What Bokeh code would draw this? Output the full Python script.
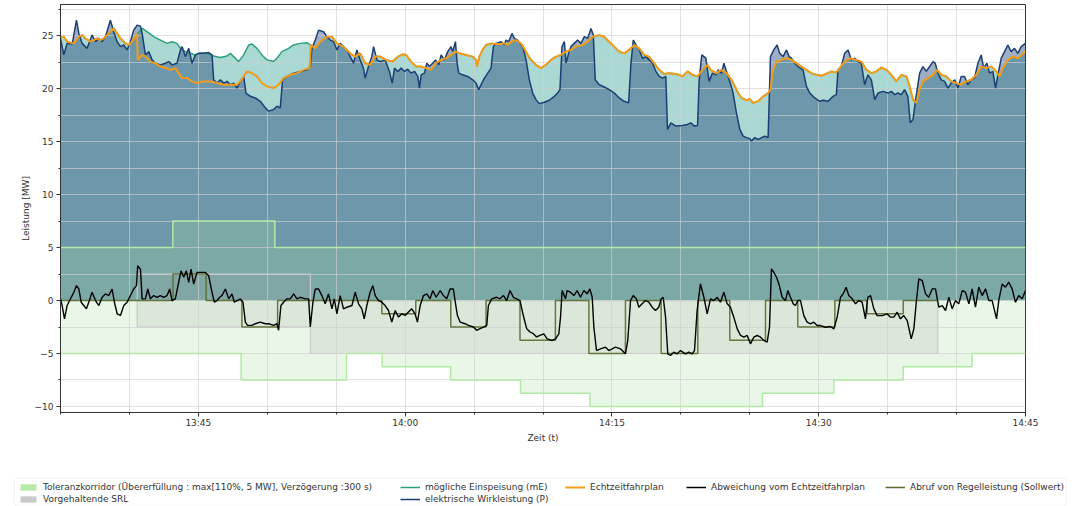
from bokeh.plotting import figure
from bokeh.models import FixedTicker, Legend, LegendItem, BoxAnnotation
from bokeh.embed import file_html
from bokeh.resources import INLINE

# ---------------- data (time in minutes after 13:35) ----------------
T_END = 70.0
x_tick_pos = [10, 25, 40, 55, 70]
x_tick_labels = ["13:45", "14:00", "14:15", "14:30", "14:45"]
y_tick_pos = [-10, -5, 0, 5, 10, 15, 20, 25]
y_tick_labels = ["\u221210", "\u22125", "0", "5", "10", "15", "20", "25"]

# elektrische Wirkleistung (P)
P_points = [
    (0.00, 24.75), (0.24, 23.19), (0.48, 24.28), (0.85, 24.22), (1.16, 26.47), (1.33, 25.22), (1.57, 24.28),
    (1.93, 23.81), (2.29, 25.06), (2.54, 24.44), (2.78, 24.75), (3.02, 24.44), (3.26, 24.91), (3.62, 26.47),
    (3.86, 25.38), (4.11, 24.44), (4.35, 23.97), (4.59, 24.13), (4.83, 23.66), (5.07, 24.44), (5.31, 25.53),
    (5.56, 26.00), (5.80, 25.91), (5.92, 25.22), (6.16, 23.19), (6.40, 23.50), (6.64, 22.72), (6.88, 22.41),
    (7.25, 22.25), (7.61, 22.41), (7.85, 22.56), (8.09, 22.25), (8.45, 22.41), (8.70, 23.66), (8.82, 23.97),
    (9.06, 23.03), (9.30, 23.81), (9.54, 22.41), (9.78, 23.19), (10.02, 23.34), (10.39, 23.34), (10.75, 23.41),
    (10.99, 23.19), (11.11, 20.84), (11.35, 20.53), (11.59, 20.84), (11.84, 20.53), (12.08, 20.69), (12.32, 20.38),
    (12.56, 20.53), (12.80, 20.06), (13.04, 20.69), (13.29, 21.16), (13.45, 19.59), (13.77, 19.28), (14.13, 19.13),
    (14.49, 18.81), (14.86, 18.19), (15.10, 17.88), (15.46, 18.03), (15.70, 18.34), (15.94, 18.19), (16.11, 20.84),
    (16.43, 21.16), (16.91, 21.47), (17.39, 21.63), (17.87, 21.78), (18.12, 22.09), (18.24, 23.81), (18.48, 24.59),
    (18.72, 25.53), (19.08, 25.38), (19.32, 24.91), (19.57, 24.59), (19.81, 24.44), (20.05, 23.66), (20.29, 24.28),
    (20.53, 23.97), (20.77, 23.66), (21.01, 23.03), (21.26, 22.41), (21.50, 23.66), (21.74, 22.72), (21.98, 21.94),
    (22.10, 21.00), (22.34, 22.09), (22.58, 23.03), (22.71, 23.97), (22.95, 22.72), (23.19, 22.56), (23.55, 22.72),
    (23.86, 21.63), (24.06, 20.53), (24.23, 21.94), (24.47, 21.63), (24.71, 21.94), (24.95, 21.63), (25.19, 21.84),
    (25.43, 21.47), (25.68, 21.63), (25.92, 21.16), (26.04, 20.06), (26.16, 21.31), (26.40, 21.47), (26.57, 22.41),
    (26.76, 22.09), (27.00, 22.41), (27.20, 22.72), (27.44, 22.25), (27.61, 23.19), (27.85, 22.72), (28.09, 23.50),
    (28.33, 23.97), (28.45, 23.50), (28.65, 24.44), (28.77, 22.41), (28.89, 21.47), (29.18, 21.31), (29.54, 21.16),
    (29.90, 20.84), (30.14, 20.53), (30.34, 19.91), (30.51, 20.38), (30.75, 21.00), (30.99, 21.47), (31.23, 21.94),
    (31.40, 23.97), (31.59, 24.28), (31.96, 24.44), (32.20, 24.13), (32.32, 24.59), (32.51, 24.44), (32.75, 25.22),
    (32.92, 24.75), (33.16, 24.59), (33.41, 24.13), (33.57, 23.81), (33.77, 22.72), (34.01, 20.84), (34.25, 19.59),
    (34.49, 18.97), (34.73, 18.59), (35.10, 18.72), (35.46, 18.91), (35.82, 19.28), (36.06, 19.59), (36.23, 19.91),
    (36.38, 23.97), (36.55, 24.44), (36.67, 22.41), (36.86, 23.34), (37.03, 23.97), (37.27, 24.28), (37.51, 24.59),
    (37.75, 24.28), (38.00, 24.91), (38.24, 24.75), (38.48, 25.69), (38.65, 25.06), (38.79, 20.84), (39.08, 20.38),
    (39.44, 20.16), (39.81, 19.91), (40.17, 19.59), (40.53, 19.13), (40.89, 18.81), (41.21, 18.66), (41.38, 22.41),
    (41.55, 24.59), (41.74, 24.13), (41.98, 23.66), (42.22, 22.88), (42.46, 23.03), (42.71, 22.72), (42.95, 22.41),
    (43.19, 21.63), (43.43, 21.16), (43.67, 21.00), (43.91, 21.16), (44.03, 16.16), (44.28, 16.78), (44.64, 16.47),
    (45.12, 16.53), (45.48, 16.63), (45.72, 16.78), (45.97, 16.47), (46.21, 16.53), (46.33, 20.84), (46.52, 23.19),
    (46.81, 22.88), (47.05, 20.69), (47.29, 21.47), (47.54, 21.31), (47.71, 21.78), (47.95, 21.47), (48.12, 22.41),
    (48.31, 21.63), (48.55, 20.69), (48.79, 19.59), (49.03, 17.72), (49.28, 16.16), (49.52, 15.53), (49.76, 15.38),
    (50.00, 15.28), (50.12, 15.06), (50.36, 15.38), (50.60, 15.22), (50.85, 15.38), (51.09, 15.53), (51.33, 15.38),
    (51.50, 23.03), (51.74, 23.66), (51.98, 24.13), (52.17, 23.34), (52.42, 23.03), (52.66, 23.66), (52.85, 23.03),
    (53.02, 22.88), (53.26, 22.41), (53.50, 22.09), (53.86, 21.78), (54.11, 20.22), (54.35, 19.59), (54.71, 19.13),
    (55.07, 18.81), (55.31, 18.91), (55.68, 18.81), (56.04, 19.28), (56.28, 19.44), (56.40, 21.78), (56.64, 22.09),
    (56.88, 23.34), (57.13, 23.66), (57.37, 22.72), (57.61, 22.88), (57.85, 22.56), (58.09, 22.41), (58.33, 20.38),
    (58.57, 21.31), (58.82, 20.84), (59.06, 18.97), (59.30, 19.59), (59.66, 19.75), (60.02, 19.59), (60.27, 19.75),
    (60.51, 19.44), (60.75, 19.59), (60.99, 19.44), (61.23, 19.91), (61.47, 19.28), (61.64, 16.78), (61.84, 17.09),
    (62.03, 18.97), (62.32, 21.47), (62.56, 22.09), (62.80, 21.63), (63.04, 22.09), (63.29, 22.56), (63.45, 22.41),
    (63.65, 21.47), (63.89, 20.84), (64.13, 20.69), (64.37, 20.06), (64.61, 20.53), (64.86, 20.84), (65.10, 20.06),
    (65.34, 21.16), (65.58, 21.16), (65.82, 20.38), (66.06, 20.84), (66.30, 21.00), (66.55, 22.41), (66.79, 23.19),
    (66.96, 21.94), (67.20, 22.41), (67.39, 21.47), (67.63, 21.63), (67.83, 20.06), (68.00, 21.31), (68.24, 22.88),
    (68.48, 23.50), (68.72, 24.13), (68.96, 23.50), (69.20, 23.81), (69.44, 23.34), (69.69, 23.97), (70.00, 24.28),
]

# Echtzeitfahrplan
F_points = [
    (0.00, 24.91), (0.24, 24.91), (0.48, 24.44), (0.97, 24.28), (1.33, 24.91), (1.57, 25.06), (1.81, 24.75),
    (2.17, 24.44), (2.42, 24.59), (2.66, 24.75), (2.90, 24.59), (3.14, 24.75), (3.50, 25.22), (3.86, 25.69),
    (4.11, 25.22), (4.35, 24.75), (4.71, 24.28), (4.95, 24.13), (5.19, 24.44), (5.43, 24.91), (5.56, 25.22),
    (5.60, 22.72), (5.92, 23.19), (6.16, 23.03), (6.52, 22.56), (6.88, 22.41), (7.25, 22.09), (7.73, 21.94),
    (7.97, 21.78), (8.33, 21.94), (8.57, 21.47), (8.82, 21.00), (9.18, 21.00), (9.54, 20.69), (9.90, 20.53),
    (10.39, 20.69), (10.87, 20.69), (11.35, 20.53), (11.84, 20.38), (12.32, 20.38), (12.80, 20.38), (13.04, 20.69),
    (13.29, 21.16), (13.53, 21.63), (13.89, 21.47), (14.25, 21.16), (14.61, 20.53), (14.98, 20.22), (15.46, 20.06),
    (15.82, 20.38), (16.18, 21.00), (16.67, 21.31), (17.15, 21.47), (17.63, 21.78), (18.07, 21.94), (18.16, 24.13),
    (18.48, 23.81), (18.84, 24.44), (19.32, 24.91), (19.69, 24.91), (20.05, 24.28), (20.53, 23.97), (21.01, 23.34),
    (21.38, 23.03), (21.74, 23.34), (22.10, 22.41), (22.46, 22.25), (22.83, 23.03), (23.19, 23.03), (23.62, 22.72),
    (24.10, 22.56), (24.47, 23.03), (24.83, 23.25), (25.07, 23.19), (25.43, 22.56), (25.79, 22.09), (26.16, 22.09),
    (26.52, 21.94), (26.88, 21.78), (27.24, 22.41), (27.61, 22.72), (27.97, 22.88), (28.33, 23.19), (28.69, 23.50),
    (28.93, 23.34), (29.42, 23.19), (29.90, 23.03), (30.14, 22.72), (30.21, 22.09), (30.38, 23.03), (30.62, 23.66),
    (30.87, 24.13), (31.23, 24.28), (31.59, 24.22), (31.95, 24.22), (32.20, 24.28), (32.44, 24.13), (32.68, 24.44),
    (33.04, 24.59), (33.40, 24.28), (33.64, 23.81), (33.89, 23.19), (34.13, 22.72), (34.49, 22.25), (34.85, 21.94),
    (35.21, 22.25), (35.58, 22.72), (35.94, 23.03), (36.30, 23.19), (36.66, 23.50), (37.03, 23.66), (37.39, 23.97),
    (37.87, 24.13), (38.23, 24.44), (38.60, 24.91), (39.08, 25.06), (39.44, 24.91), (39.80, 24.44), (40.17, 23.97),
    (40.53, 23.50), (40.89, 23.34), (41.25, 23.66), (41.62, 24.13), (41.98, 23.81), (42.34, 23.19), (42.70, 23.03),
    (43.06, 22.41), (43.43, 21.78), (43.79, 21.38), (44.15, 21.47), (44.51, 21.41), (44.88, 21.31), (45.12, 21.16),
    (45.48, 21.63), (45.84, 21.31), (46.21, 21.16), (46.57, 21.78), (46.93, 22.25), (47.17, 21.78), (47.54, 21.47),
    (47.95, 21.78), (48.31, 21.47), (48.67, 20.84), (48.92, 20.22), (49.16, 19.59), (49.40, 19.13), (49.76, 18.91),
    (50.00, 19.03), (50.24, 18.66), (50.61, 18.81), (50.97, 19.28), (51.33, 19.59), (51.50, 19.91), (51.69, 21.78),
    (51.94, 22.56), (52.30, 22.72), (52.66, 22.88), (53.02, 22.72), (53.38, 22.41), (53.75, 22.09), (54.11, 21.78),
    (54.47, 21.47), (54.83, 21.31), (55.20, 21.22), (55.56, 21.41), (55.92, 21.63), (56.28, 21.53), (56.52, 21.94),
    (56.89, 22.56), (57.25, 22.88), (57.73, 22.72), (58.09, 22.56), (58.46, 21.78), (58.82, 21.47), (59.18, 21.63),
    (59.54, 22.00), (59.91, 21.78), (60.27, 21.31), (60.63, 20.69), (60.99, 21.31), (61.36, 21.16), (61.60, 20.22),
    (61.84, 18.97), (62.08, 18.66), (62.32, 19.91), (62.56, 20.69), (62.93, 21.00), (63.29, 21.31), (63.58, 21.78),
    (63.89, 21.31), (64.25, 21.16), (64.62, 20.69), (64.98, 20.53), (65.34, 20.38), (65.70, 20.69), (66.06, 20.84),
    (66.43, 21.31), (66.79, 22.09), (67.15, 21.94), (67.51, 22.09), (67.88, 21.63), (68.12, 21.16), (68.36, 21.94),
    (68.72, 22.72), (69.09, 23.03), (69.45, 22.88), (69.69, 23.19), (70.00, 23.50),
]

# mögliche Einspeisung (mE) where it differs from the Echtzeitfahrplan
mE_window_points = [
    (5.60, 25.22), (5.92, 25.69), (6.28, 25.38), (6.76, 24.91), (7.25, 24.59), (7.73, 24.28), (8.09, 24.44),
    (8.45, 24.28), (8.70, 23.81), (9.06, 23.50), (9.42, 23.34), (9.78, 23.19), (10.14, 23.34), (10.63, 23.34),
    (11.11, 23.09), (11.59, 22.94), (12.08, 23.09), (12.32, 23.34), (12.56, 23.03), (12.92, 22.56), (13.29, 23.19),
    (13.65, 24.13), (13.89, 24.22), (14.25, 23.81), (14.61, 23.19), (14.98, 22.72), (15.46, 22.56), (15.70, 22.88),
    (16.06, 23.50), (16.55, 23.81), (16.91, 24.13), (17.39, 24.28), (17.87, 24.34), (18.12, 24.13),
]

# Abweichung vom Echtzeitfahrplan
D_points = [
    (0.00, 0.16), (0.12, -0.47), (0.29, -1.72), (0.48, -0.47), (0.72, 0.16), (0.97, 0.78), (1.16, 1.41),
    (1.33, 1.09), (1.50, -0.16), (1.69, -0.47), (1.88, -0.78), (2.05, -0.16), (2.29, 0.78), (2.54, 0.00),
    (2.78, -0.47), (3.02, 0.31), (3.26, 0.63), (3.50, 0.47), (3.74, 1.09), (3.91, -0.16), (4.11, -1.25),
    (4.35, -1.41), (4.59, -0.47), (4.83, -0.16), (5.07, 0.47), (5.31, 1.09), (5.51, 1.41), (5.60, 3.28),
    (5.80, 2.97), (5.92, 0.16), (6.16, 0.16), (6.33, 1.09), (6.52, 0.16), (6.76, 0.47), (7.00, 0.31),
    (7.25, 0.47), (7.49, 0.31), (7.73, 0.47), (7.92, 1.09), (8.09, 0.00), (8.33, 0.16), (8.57, 1.72),
    (8.74, 2.81), (8.94, 2.19), (9.13, 2.81), (9.30, 1.72), (9.47, 2.97), (9.66, 1.56), (9.90, 2.66),
    (10.14, 2.66), (10.51, 2.66), (10.75, 2.34), (10.99, 0.78), (11.16, -0.16), (11.35, 0.00), (11.55, 0.31),
    (11.71, 0.47), (11.96, 1.09), (12.20, 0.16), (12.44, 0.63), (12.61, -0.16), (12.80, 0.00), (13.04, 0.16),
    (13.24, -0.16), (13.41, -2.03), (13.57, -2.34), (13.89, -2.34), (14.13, -2.19), (14.49, -2.03), (14.86, -2.19),
    (15.10, -2.19), (15.46, -2.34), (15.70, -2.19), (15.82, -2.81), (15.99, -0.47), (16.18, -0.16), (16.43, 0.16),
    (16.67, 0.16), (16.91, 0.63), (17.15, 0.16), (17.39, 0.31), (17.75, 0.16), (18.00, 0.16), (18.12, -2.50),
    (18.31, -0.16), (18.48, 1.09), (18.72, 1.09), (18.96, 0.47), (19.20, -0.31), (19.44, 0.63), (19.69, -0.78),
    (19.86, 0.16), (20.05, -1.25), (20.29, 0.47), (20.53, -0.78), (20.77, -0.63), (21.14, -0.47), (21.38, 0.78),
    (21.62, -0.31), (21.86, -0.78), (22.03, -1.72), (22.22, -0.47), (22.46, 0.78), (22.66, 1.41), (22.83, 0.47),
    (23.07, 0.00), (23.31, -0.16), (23.55, -0.47), (23.79, -0.94), (24.03, -2.03), (24.28, -0.94), (24.52, -1.56),
    (24.76, -1.25), (25.00, -1.41), (25.24, -1.09), (25.48, -0.78), (25.72, -1.25), (25.89, -2.03), (26.09, -0.47),
    (26.33, 0.47), (26.57, 0.63), (26.81, 0.16), (27.00, 0.94), (27.25, 0.31), (27.54, 0.94), (27.78, 0.47),
    (28.02, 0.16), (28.26, 1.09), (28.50, 1.09), (28.62, 0.00), (28.79, -1.41), (28.99, -2.03), (29.35, -2.19),
    (29.59, -2.34), (29.95, -2.50), (30.19, -2.81), (30.43, -2.66), (30.68, -2.50), (30.92, -2.34), (31.04, -0.47),
    (31.28, 0.16), (31.64, 0.31), (31.88, 0.16), (32.13, 0.47), (32.37, 0.00), (32.61, 0.94), (32.85, 0.31),
    (33.09, 0.16), (33.33, 0.00), (33.57, -1.41), (33.82, -2.66), (34.06, -2.97), (34.30, -3.13), (34.54, -3.44),
    (34.78, -3.28), (35.06, -3.14), (35.30, -3.62), (35.66, -3.77), (35.91, -3.62), (36.15, -3.14), (36.27, -1.57),
    (36.39, 0.94), (36.63, 0.16), (36.75, 0.94), (36.99, 0.79), (37.24, 0.47), (37.48, 0.94), (37.72, 0.31),
    (37.96, 0.94), (38.20, 0.63), (38.40, 1.10), (38.57, 0.31), (38.69, -2.52), (38.88, -4.72), (39.17, -4.56),
    (39.53, -4.40), (39.78, -4.72), (40.02, -4.56), (40.26, -4.40), (40.62, -4.56), (40.98, -5.03), (41.15, -3.77),
    (41.35, 0.00), (41.54, 0.47), (41.78, 0.16), (41.95, -0.63), (42.19, -0.31), (42.43, 0.00), (42.68, -0.16),
    (42.92, -0.63), (43.16, -0.94), (43.40, -0.63), (43.57, 0.16), (43.72, 0.31), (43.89, -1.57), (44.05, -5.03),
    (44.25, -5.19), (44.49, -4.87), (44.73, -5.03), (44.97, -4.72), (45.34, -5.03), (45.58, -4.87), (45.82, -5.03),
    (45.99, -4.72), (46.18, -0.94), (46.42, 1.57), (46.67, 0.31), (46.91, -1.26), (47.15, 0.16), (47.39, 0.00),
    (47.64, 0.31), (47.87, -0.16), (48.12, 0.79), (48.36, -0.31), (48.60, -0.63), (48.84, -1.57), (49.09, -2.67),
    (49.33, -3.30), (49.57, -3.46), (49.81, -3.30), (50.05, -4.09), (50.29, -3.46), (50.54, -3.30), (50.78, -3.46),
    (51.02, -3.77), (51.26, -3.93), (51.43, -2.52), (51.57, 2.99), (51.74, 2.67), (51.94, 2.20), (52.11, 1.57),
    (52.35, 0.31), (52.59, 0.00), (52.76, 0.94), (52.95, 0.31), (53.15, -0.31), (53.32, -0.47), (53.48, 0.00),
    (53.68, 0.00), (53.92, -1.42), (54.16, -2.04), (54.40, -2.20), (54.64, -2.04), (54.89, -2.36), (55.13, -2.36),
    (55.49, -2.52), (55.85, -2.45), (56.10, -2.67), (56.34, -1.57), (56.58, 0.31), (56.77, 0.63), (56.99, 1.26),
    (57.18, 0.47), (57.43, 0.16), (57.67, -0.31), (57.91, 0.00), (58.15, -0.16), (58.39, -1.73), (58.56, 0.31),
    (58.76, 0.47), (59.00, -0.79), (59.24, -1.42), (59.60, -1.42), (59.97, -1.26), (60.21, -1.57), (60.45, -1.57),
    (60.69, -1.10), (60.93, -1.73), (61.17, -1.42), (61.42, -1.89), (61.71, -3.62), (61.90, -2.67), (62.09, 0.00),
    (62.26, 2.04), (62.51, 1.89), (62.75, 0.63), (62.98, 0.31), (63.23, 1.10), (63.47, 1.10), (63.71, -0.63),
    (63.96, -0.47), (64.20, -0.94), (64.44, 0.31), (64.68, -0.79), (64.92, 0.00), (65.16, -0.31), (65.41, 0.94),
    (65.65, 0.79), (65.89, -0.31), (66.13, 1.10), (66.37, -0.63), (66.61, 1.26), (66.86, 0.47), (67.10, 1.10),
    (67.34, 0.00), (67.58, 0.00), (67.90, -1.73), (68.06, 0.00), (68.31, 1.57), (68.55, 1.26), (68.79, 1.73),
    (69.03, 1.10), (69.27, -0.16), (69.51, 0.47), (69.76, 0.16), (70.00, 0.94),
]

# Abruf von Regelleistung (Sollwert): step start times and values
abruf_times = [0, 8.16, 10.56, 13.16, 15.75, 23.31, 25.77, 28.31, 30.87, 33.33, 35.9,
               38.33, 40.98, 43.57, 46.23, 48.55, 51.14, 53.48, 56.17, 58.51, 61.13]
abruf_values = [0, 2.5, 0, -2.5, 0, -1.25, 0, -2.5, 0, -3.75, 0,
                -5, 0, -5, 0, -3.75, 0, -2.5, 0, -1.25, 0]
abruf_end = 63.64

# Vorgehaltende SRL
srl_times = [5.56, 18.13]
srl_upper = [2.5, 0.0]
srl_lower = [-2.5, -5.0]
srl_end = 63.64

# Toleranzkorridor
tol_up_times = [0, 8.15, 15.55]
tol_up_values = [5, 7.5, 5]
tol_lo_times = [0, 13.1, 20.75, 23.33, 28.3, 33.37, 38.4, 50.92, 56.1, 61.13, 66.13]
tol_lo_values = [-5, -7.5, -5, -6.25, -7.5, -8.75, -10, -8.75, -7.5, -6.25, -5]

labels = {
    "tol": "Toleranzkorridor (\u00dcbererf\u00fcllung : max[110%, 5 MW], Verz\u00f6gerung :300 s)",
    "srl": "Vorgehaltende SRL",
    "me": "m\u00f6gliche Einspeisung (mE)",
    "p": "elektrische Wirkleistung (P)",
    "f": "Echtzeitfahrplan",
    "d": "Abweichung vom Echtzeitfahrplan",
    "a": "Abruf von Regelleistung (Sollwert)",
}

# ---------------- helpers ----------------
def unzip(points):
    return [a for a, _ in points], [b for _, b in points]


def step_xy(times, values, end):
    xs, ys = [], []
    bounds = list(times[1:]) + [end]
    for t0, t1, v in zip(times, bounds, values):
        xs += [t0, t1]
        ys += [v, v]
    return xs, ys


def step_at(times, values, t):
    v = values[0]
    for ti, vi in zip(times, values):
        if t >= ti - 1e-9:
            v = vi
    return v


P_t, P_v = unzip(P_points)
F_t, F_v = unzip(F_points)
D_t, D_v = unzip(D_points)
W_t, W_v = unzip(mE_window_points)
mE_t = [t for t in F_t if t <= 5.56] + W_t + [t for t in F_t if t >= 18.16]
mE_v = ([v for t, v in F_points if t <= 5.56] + W_v + [v for t, v in F_points if t >= 18.16])

bps = sorted(set(tol_up_times + tol_lo_times + [T_END]))
cor_x, cor_up, cor_lo = [], [], []
for a, b in zip(bps[:-1], bps[1:]):
    u = step_at(tol_up_times, tol_up_values, a)
    l = step_at(tol_lo_times, tol_lo_values, a)
    cor_x += [a, b]
    cor_up += [u, u]
    cor_lo += [l, l]
up_x, up_y = step_xy(tol_up_times, tol_up_values, T_END)
lo_x, lo_y = step_xy(tol_lo_times, tol_lo_values, T_END)

su_x, su_y = step_xy(srl_times, srl_upper, srl_end)
sl_x, sl_y = step_xy(srl_times, srl_lower, srl_end)
srl_px = su_x + sl_x[::-1]
srl_py = su_y + sl_y[::-1]

ab_x, ab_y = step_xy(abruf_times, abruf_values, abruf_end)

# ---------------- styles ----------------
FONT = "DejaVu Sans"
TEAL = "#2a9d8f"
TEAL_LINE = "#2ca07c"
NAVY = "#1b3f73"
ORANGE = "#f39c1a"
OLIVE = "#5b6b30"
GREEN_FILL = "#a8e49a"
GREEN_EDGE = "#b4e8a6"

# ---------------- main figure ----------------
p = figure(width=1079, height=470, x_range=(0, T_END), y_range=(-10.57, 27.95),
           output_backend="svg", toolbar_location=None,
           min_border_left=60, min_border_right=54, min_border_top=4, min_border_bottom=58)
p.background_fill_color = "white"
p.border_fill_color = "white"
p.outline_line_color = "#333333"
p.outline_line_width = 1

p.varea(x=mE_t, y1=0, y2=mE_v, fill_color=TEAL, fill_alpha=0.4, level="image")
p.varea(x=P_t, y1=0, y2=P_v, fill_color=NAVY, fill_alpha=0.42, level="image")
p.varea(x=cor_x, y1=cor_lo, y2=cor_up, fill_color=GREEN_FILL, fill_alpha=0.25, level="image")
p.patch(srl_px, srl_py, fill_color="#9a9a9a", fill_alpha=0.18,
        line_color="#c8c8c8", line_width=1.2, level="image")

p.line(up_x, up_y, line_color=GREEN_EDGE, line_width=1.5)
p.line(lo_x, lo_y, line_color=GREEN_EDGE, line_width=1.5)

p.line(ab_x, ab_y, line_color=OLIVE, line_width=1.5, line_alpha=0.9)
p.line(D_t, D_v, line_color="black", line_width=1.4)
p.line(mE_t, mE_v, line_color=TEAL_LINE, line_width=1.5)
p.line(P_t, P_v, line_color=NAVY, line_width=1.5)
p.line(F_t, F_v, line_color=ORANGE, line_width=2)

p.xgrid.ticker = FixedTicker(ticks=list(range(0, 71, 5)))
p.ygrid.ticker = FixedTicker(ticks=[-10 + 2.5 * i for i in range(16)])
for g in (p.xgrid[0], p.ygrid[0]):
    g.grid_line_color = "#d0d0d0"
    g.grid_line_alpha = 0.65
    g.grid_line_width = 1
    g.level = "underlay"

xa = p.xaxis[0]
xa.ticker = FixedTicker(ticks=x_tick_pos, minor_ticks=list(range(0, 71, 5)))
xa.major_label_overrides = dict(zip(x_tick_pos, x_tick_labels))
xa.axis_label = "Zeit (t)"
ya = p.yaxis[0]
ya.ticker = FixedTicker(ticks=y_tick_pos, minor_ticks=[-10 + 2.5 * i for i in range(16)])
ya.major_label_overrides = dict(zip(y_tick_pos, y_tick_labels))
ya.axis_label = "Leistung [MW]"
for ax in (xa, ya):
    ax.axis_line_color = "#333333"
    ax.major_tick_line_color = "#333333"
    ax.minor_tick_line_color = "#333333"
    ax.major_tick_out = 4
    ax.major_tick_in = 0
    ax.minor_tick_out = 2
    ax.minor_tick_in = 0
    ax.major_label_text_font = FONT
    ax.major_label_text_font_size = "9px"
    ax.major_label_text_color = "#333333"
    ax.axis_label_text_font = FONT
    ax.axis_label_text_font_size = "9px"
    ax.axis_label_text_font_style = "normal"
    ax.axis_label_text_color = "#333333"
xa.major_label_standoff = 1
xa.axis_label_standoff = 2
ya.major_label_standoff = 3
ya.axis_label_standoff = 1

# ---------------- legend strip (separate root, pixel coordinates) ----------------
lg = figure(width=1079, height=36, x_range=(0, 1079), y_range=(0, 36),
            x_axis_type=None, y_axis_type=None, output_backend="svg",
            toolbar_location=None, min_border=0)
lg.outline_line_color = None
lg.grid.visible = False
lg.background_fill_color = "white"
lg.border_fill_color = "white"

lg.add_layout(BoxAnnotation(left=14, right=1066, bottom=0.5, top=28,
                            fill_color="white", fill_alpha=1,
                            line_color="#d8d8d8", line_width=1, border_radius=3))

# legend-only renderers (their single sample lies outside the visible range)
off_x = [-50, -40]
off_y = [-50, -50]
d_tol = lg.varea(x=off_x, y1=off_y, y2=off_y, fill_color="#b8eaa8", fill_alpha=1)
d_srl = lg.varea(x=off_x, y1=off_y, y2=off_y, fill_color="#c8cacc", fill_alpha=1)
d_me = lg.line(x=off_x, y=off_y, line_color=TEAL_LINE, line_width=1.5)
d_p = lg.line(x=off_x, y=off_y, line_color=NAVY, line_width=1.5)
d_f = lg.line(x=off_x, y=off_y, line_color=ORANGE, line_width=2)
d_d = lg.line(x=off_x, y=off_y, line_color="black", line_width=1.5)
d_a = lg.line(x=off_x, y=off_y, line_color=OLIVE, line_width=1.5)

legend_columns = [
    (18, [("tol", d_tol), ("srl", d_srl)]),
    (400, [("me", d_me), ("p", d_p)]),
    (565, [("f", d_f)]),
    (686, [("d", d_d)]),
    (885, [("a", d_a)]),
]
for x0, entries in legend_columns:
    bottom = 1 if len(entries) == 2 else 13
    leg = Legend(
        items=[LegendItem(label=labels[k], renderers=[r]) for k, r in entries],
        location=(x0, bottom), orientation="vertical",
        label_text_font=FONT, label_text_font_size="9px", label_text_color="#333333",
        glyph_width=20, glyph_height=8, label_height=12, label_standoff=5,
        spacing=0, padding=0, margin=0,
        border_line_color=None, background_fill_alpha=0,
    )
    lg.add_layout(leg, "center")

open("out.html", "w").write(file_html([p, lg], INLINE))
